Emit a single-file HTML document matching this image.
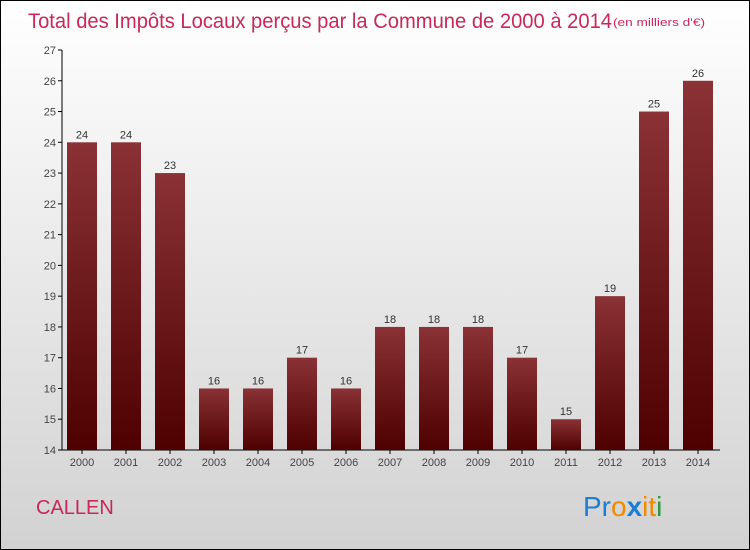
<!DOCTYPE html>
<html><head><meta charset="utf-8"><style>
body{margin:0;width:750px;height:550px;overflow:hidden}
#root{position:absolute;left:0;top:0;width:748px;height:548px;border:1px solid #000;background:linear-gradient(#ffffff,#d2d2d2);font-family:"Liberation Sans",sans-serif}
</style></head><body>
<div id="root">
<svg width="750" height="550" style="position:absolute;left:-1px;top:-1px">
<defs><linearGradient id="bg" x1="0" y1="0" x2="0" y2="1"><stop offset="0" stop-color="#8a3236"/><stop offset="1" stop-color="#4e0000"/></linearGradient></defs>
<text x="28" y="28" font-size="21" fill="#c8285a" textLength="584" lengthAdjust="spacingAndGlyphs">Total des Impôts Locaux perçus par la Commune de 2000 à 2014</text>
<text x="613" y="26" font-size="11" fill="#c8285a" textLength="92" lengthAdjust="spacingAndGlyphs">(en milliers d'€)</text>
<g id="axes"></g><g id="bars"></g>
<text x="36" y="514" font-size="20" fill="#c8285a">CALLEN</text>
<text x="583" y="516" font-size="28"><tspan fill="#1a7fd4">Pr</tspan><tspan fill="#f08a00">o</tspan><tspan fill="#1a7fd4" font-weight="bold">x</tspan><tspan fill="#f08a00">i</tspan><tspan fill="#f08a00">t</tspan><tspan fill="#2a9a3a">i</tspan></text>
</svg></div>
<script>
const years=["2000","2001","2002","2003","2004","2005","2006","2007","2008","2009","2010","2011","2012","2013","2014"];
const values=[24,24,23,16,16,17,16,18,18,18,17,15,19,25,26];
const yTicks=[14,15,16,17,18,19,20,21,22,23,24,25,26,27];
const NS="http://www.w3.org/2000/svg";
const y=v=>450-(v-14)*(400/13);
const x=i=>82+44*i;
const ax=document.getElementById('axes'),bg=document.getElementById('bars');
function mk(p,t,a){const e=document.createElementNS(NS,t);for(const k in a)e.setAttribute(k,a[k]);p.appendChild(e);return e;}
const yl=mk(ax,'line',{x1:62,y1:50,x2:62,y2:450,stroke:'#000'});


const xl=mk(ax,'line',{x1:62,y1:450,x2:720,y2:450,stroke:'#000'});


yTicks.forEach(t=>{mk(ax,'line',{x1:58,x2:62,y1:y(t),y2:y(t),stroke:'#000'});
const tx=mk(ax,'text',{x:56,y:y(t)+4,'font-size':11,fill:'#444','text-anchor':'end'});tx.textContent=t;

});
years.forEach((yr,i)=>{const v=values[i];
const r=mk(bg,'rect',{x:x(i)-15,y:y(v),width:30,height:450-y(v),fill:'url(#bg)'});


const l=mk(bg,'text',{x:x(i),y:y(v)-4,'font-size':11,fill:'#333','text-anchor':'middle'});l.textContent=v;


mk(ax,'line',{x1:x(i),x2:x(i),y1:450,y2:454,stroke:'#000'});
const xt=mk(ax,'text',{x:x(i),y:466,'font-size':11,fill:'#444','text-anchor':'middle'});xt.textContent=yr;

});
</script>
</body></html>
